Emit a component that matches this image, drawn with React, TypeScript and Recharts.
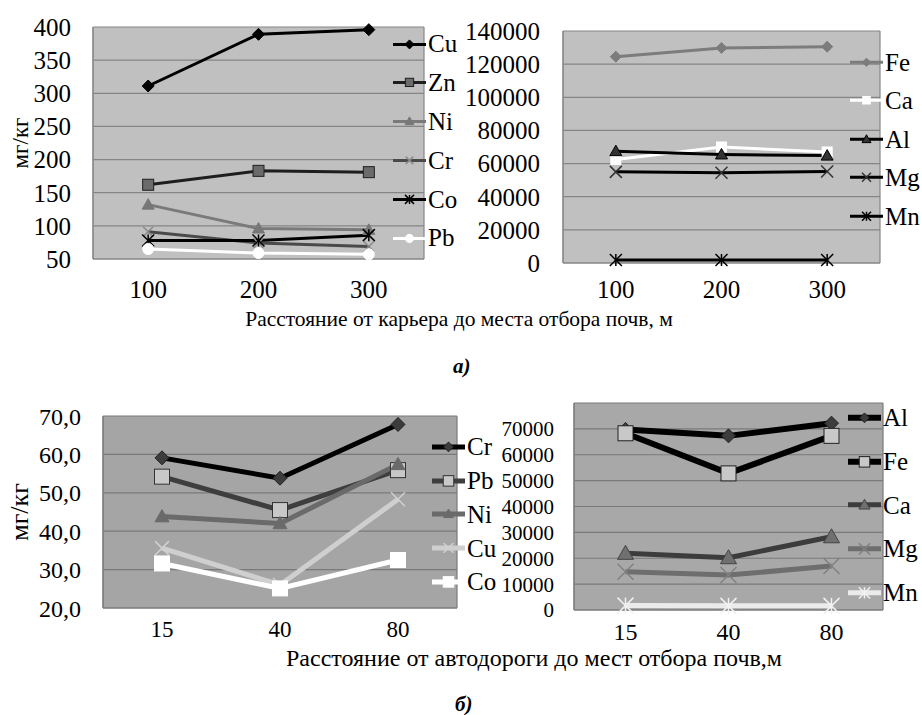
import React from "react";
import { LineChart, Line, XAxis, YAxis, CartesianGrid, Legend, Label } from "recharts";

const FONT = '"Liberation Serif", "Times New Roman", serif';

// а) distance from the quarry, m
const quarryDist = ["100", "200", "300"];
const cuQ = [311, 389, 396];
const znQ = [162, 183, 181];
const niQ = [132, 96, 94];
const crQ = [91, 74, 69];
const coQ = [78, 78, 86];
const pbQ = [65, 59, 57];
const quarryTicksSmall = [50, 100, 150, 200, 250, 300, 350, 400];

const feQ = [124500, 129800, 130500];
const caQ = [62500, 70000, 67000];
const alQ = [67500, 65500, 64800];
const mgQ = [55000, 54500, 55200];
const mnQ = [1800, 1800, 1800];
const quarryTicksBig = [0, 20000, 40000, 60000, 80000, 100000, 120000, 140000];

// б) distance from the road, m
const roadDist = ["15", "40", "80"];
const crR = [59.1, 53.8, 67.8];
const pbR = [54.2, 45.5, 55.9];
const niR = [43.8, 42.0, 57.4];
const cuR = [35.6, 26.0, 48.3];
const coR = [31.6, 25.1, 32.5];
const roadTicksSmall = [20, 30, 40, 50, 60, 70];

const alR = [69800, 67300, 72200];
const feR = [68300, 52800, 67300];
const caR = [21900, 20200, 28300];
const mgR = [14800, 13500, 17000];
const mnR = [1700, 1600, 1600];
const roadTicksBig = [0, 10000, 20000, 30000, 40000, 50000, 60000, 70000, 80000];

const quarryRowsSmall = quarryDist.map((d, i) => ({ dist: d, Cu: cuQ[i], Zn: znQ[i], Ni: niQ[i], Cr: crQ[i], Co: coQ[i], Pb: pbQ[i] }));
const quarryRowsBig = quarryDist.map((d, i) => ({ dist: d, Fe: feQ[i], Ca: caQ[i], Al: alQ[i], Mg: mgQ[i], Mn: mnQ[i] }));
const roadRowsSmall = roadDist.map((d, i) => ({ dist: d, Cr: crR[i], Pb: pbR[i], Ni: niR[i], Cu: cuR[i], Co: coR[i] }));
const roadRowsBig = roadDist.map((d, i) => ({ dist: d, Al: alR[i], Fe: feR[i], Ca: caR[i], Mg: mgR[i], Mn: mnR[i] }));

type Shape = "diamond" | "square" | "triangle" | "x" | "star" | "circle";
type SeriesStyle = { name: string; stroke: string; width: number; shape: Shape; r: number; fill: string; edge: string };

const stylesA1: SeriesStyle[] = [
  { name: "Cu", stroke: "#000", width: 3, shape: "diamond", r: 6, fill: "#000", edge: "#000" },
  { name: "Zn", stroke: "#1e1e1e", width: 3, shape: "square", r: 5.5, fill: "#6b6b6b", edge: "#1e1e1e" },
  { name: "Ni", stroke: "#7a7a7a", width: 3, shape: "triangle", r: 6, fill: "#777", edge: "#777" },
  { name: "Cr", stroke: "#4a4a4a", width: 3, shape: "x", r: 5, fill: "#8a8a8a", edge: "#8a8a8a" },
  { name: "Co", stroke: "#000", width: 3, shape: "star", r: 6, fill: "#000", edge: "#000" },
  { name: "Pb", stroke: "#fff", width: 3, shape: "circle", r: 5.5, fill: "#fff", edge: "#fff" },
];

const stylesA2: SeriesStyle[] = [
  { name: "Fe", stroke: "#7c7c7c", width: 3, shape: "diamond", r: 5.5, fill: "#7c7c7c", edge: "#7c7c7c" },
  { name: "Ca", stroke: "#fff", width: 3, shape: "square", r: 5, fill: "#fff", edge: "#fff" },
  { name: "Al", stroke: "#000", width: 3, shape: "triangle", r: 6, fill: "#333", edge: "#000" },
  { name: "Mg", stroke: "#000", width: 3, shape: "x", r: 6, fill: "#333", edge: "#333" },
  { name: "Mn", stroke: "#000", width: 3, shape: "star", r: 6, fill: "#000", edge: "#000" },
];

const stylesB1: SeriesStyle[] = [
  { name: "Cr", stroke: "#000", width: 5, shape: "diamond", r: 7, fill: "#3c3c3c", edge: "#222" },
  { name: "Pb", stroke: "#3e3e3e", width: 5, shape: "square", r: 7.5, fill: "#c8c8c8", edge: "#333" },
  { name: "Ni", stroke: "#6a6a6a", width: 5, shape: "triangle", r: 7, fill: "#6a6a6a", edge: "#6a6a6a" },
  { name: "Cu", stroke: "#cfcfcf", width: 5, shape: "x", r: 7, fill: "#d0d0d0", edge: "#d0d0d0" },
  { name: "Co", stroke: "#fff", width: 5, shape: "square", r: 7.5, fill: "#fff", edge: "#fff" },
];

const stylesB2: SeriesStyle[] = [
  { name: "Al", stroke: "#000", width: 6, shape: "diamond", r: 7, fill: "#3c3c3c", edge: "#222" },
  { name: "Fe", stroke: "#000", width: 6, shape: "square", r: 7.5, fill: "#c8c8c8", edge: "#222" },
  { name: "Ca", stroke: "#3c3c3c", width: 5, shape: "triangle", r: 8, fill: "#707070", edge: "#444" },
  { name: "Mg", stroke: "#6e6e6e", width: 5, shape: "x", r: 8, fill: "#808080", edge: "#808080" },
  { name: "Mn", stroke: "#ebebeb", width: 5, shape: "star", r: 8, fill: "#f2f2f2", edge: "#f2f2f2" },
];

function Marker({ shape, cx, cy, r, fill, edge }: { shape: Shape; cx: number; cy: number; r: number; fill: string; edge: string }) {
  switch (shape) {
    case "diamond":
      return <polygon points={`${cx},${cy - r} ${cx + r},${cy} ${cx},${cy + r} ${cx - r},${cy}`} fill={fill} stroke={edge} strokeWidth={1} />;
    case "square":
      return <rect x={cx - r} y={cy - r} width={2 * r} height={2 * r} fill={fill} stroke={edge} strokeWidth={1} />;
    case "triangle":
      return <polygon points={`${cx},${cy - r} ${cx + r},${cy + r * 0.75} ${cx - r},${cy + r * 0.75}`} fill={fill} stroke={edge} strokeWidth={1} />;
    case "x":
      return (
        <g stroke={fill} strokeWidth={1.5}>
          <line x1={cx - r} y1={cy - r} x2={cx + r} y2={cy + r} />
          <line x1={cx - r} y1={cy + r} x2={cx + r} y2={cy - r} />
        </g>
      );
    case "star":
      return (
        <g stroke={fill} strokeWidth={1.5}>
          <line x1={cx - r} y1={cy - r} x2={cx + r} y2={cy + r} />
          <line x1={cx - r} y1={cy + r} x2={cx + r} y2={cy - r} />
          <line x1={cx} y1={cy - r} x2={cx} y2={cy + r} />
        </g>
      );
    default:
      return <circle cx={cx} cy={cy} r={r} fill={fill} stroke={edge} strokeWidth={1} />;
  }
}

type PanelProps = {
  left: number; top: number; width: number; height: number;
  margin: { top: number; right: number; bottom: number; left: number };
  data: any[]; series: SeriesStyle[];
  yDomain: [number, number]; yTicks: number[]; yFormat?: (v: number) => string;
  yWidth: number; yTickMargin: number; yFont: number;
  xHeight: number; xTickMargin: number; xFont: number;
  bg: string; gridColor: string;
  legendLeft: number; legendTop: number; legendRow: number; legendFont: number; legendScale: number;
  yLabelFont?: number; yLabelX?: number;
};

function Panel(p: PanelProps) {
  // keep the legend in series order (Excel style), not sorted by name
  const renderLegend = (props: any) => {
    const payload: any[] = props.payload || [];
    return (
      <div style={{ fontFamily: FONT }}>
        {p.series
          .filter((s) => payload.some((e) => e.value === s.name))
          .map((s) => {
            const mid = p.legendRow / 2;
            return (
              <div key={s.name} style={{ height: p.legendRow, display: "flex", alignItems: "center" }}>
                <svg width={33} height={p.legendRow} style={{ display: "block" }}>
                  <line x1={0} x2={33} y1={mid} y2={mid} stroke={s.stroke} strokeWidth={s.width} />
                  <Marker shape={s.shape} cx={16.5} cy={mid} r={s.r * p.legendScale} fill={s.fill} edge={s.edge} />
                </svg>
                <span style={{ fontSize: p.legendFont, marginLeft: 2, lineHeight: 1, color: "#000" }}>{s.name}</span>
              </div>
            );
          })}
      </div>
    );
  };

  return (
    <div style={{ position: "absolute", left: p.left, top: p.top }}>
      <LineChart width={p.width} height={p.height} data={p.data} margin={p.margin} style={{ fontFamily: FONT }}>
        <CartesianGrid
          fill={p.bg}
          stroke={p.gridColor}
          strokeWidth={1.2}
          verticalCoordinatesGenerator={({ offset }: any) => [offset.left, offset.left + offset.width]}
        />
        <XAxis
          dataKey="dist"
          scale="band"
          height={p.xHeight}
          tickLine={false}
          tickSize={0}
          tickMargin={p.xTickMargin}
          axisLine={{ stroke: p.gridColor }}
          tick={{ fill: "#000", fontSize: p.xFont, fontFamily: FONT }}
        />
        <YAxis
          type="number"
          domain={p.yDomain}
          ticks={p.yTicks}
          interval={0}
          width={p.yWidth}
          tickLine={false}
          tickSize={0}
          tickMargin={p.yTickMargin}
          axisLine={{ stroke: p.gridColor }}
          tickFormatter={p.yFormat}
          tick={{ fill: "#000", fontSize: p.yFont, fontFamily: FONT }}
        >
          {p.yLabelFont ? (
            <Label
              content={({ viewBox }: any) => {
                const cx = p.yLabelX || 18;
                const cy = viewBox.y + viewBox.height / 2;
                return (
                  <text x={cx} y={cy} transform={`rotate(-90 ${cx} ${cy})`} textAnchor="middle" dominantBaseline="central" fontSize={p.yLabelFont} fontFamily={FONT} fill="#000">
                    мг/кг
                  </text>
                );
              }}
            />
          ) : null}
        </YAxis>
        <Legend
          layout="vertical"
          align="center"
          verticalAlign="middle"
          content={renderLegend}
          wrapperStyle={{ left: p.legendLeft, top: p.legendTop, width: 90 }}
        />
        {p.series.map((s) => (
          <Line
            key={s.name}
            dataKey={s.name}
            name={s.name}
            stroke={s.stroke}
            strokeWidth={s.width}
            isAnimationActive={false}
            dot={(d: any) => <Marker key={`${s.name}-${d.index}`} shape={s.shape} cx={d.cx} cy={d.cy} r={s.r} fill={s.fill} edge={s.edge} />}
            activeDot={false}
          />
        ))}
      </LineChart>
    </div>
  );
}

const comma = (v: number) => v.toFixed(1).replace(".", ",");
const hideTop = (v: number) => (v === 80000 ? "" : String(v));

export default function App() {
  return (
    <div style={{ position: "absolute", left: 0, top: 0, width: 922, height: 715, background: "#fff", fontFamily: FONT, color: "#000", overflow: "hidden" }}>
      <Panel
        left={0} top={0} width={480} height={320}
        margin={{ top: 27, right: 56, bottom: 0, left: 0 }}
        data={quarryRowsSmall} series={stylesA1}
        yDomain={[50, 400]} yTicks={quarryTicksSmall}
        yWidth={93} yTickMargin={22} yFont={25}
        xHeight={61} xTickMargin={21} xFont={25}
        bg="#c0c0c0" gridColor="#858585"
        legendLeft={393} legendTop={24.6} legendRow={38.8} legendFont={25} legendScale={0.75}
        yLabelFont={23} yLabelX={20}
      />
      <Panel
        left={460} top={0} width={462} height={320}
        margin={{ top: 31, right: 42, bottom: 0, left: 0 }}
        data={quarryRowsBig} series={stylesA2}
        yDomain={[0, 140000]} yTicks={quarryTicksBig}
        yWidth={103} yTickMargin={23} yFont={25}
        xHeight={57} xTickMargin={17} xFont={25}
        bg="#c0c0c0" gridColor="#858585"
        legendLeft={390} legendTop={42.8} legendRow={38.5} legendFont={25} legendScale={0.75}
      />
      <div style={{ position: "absolute", left: -2, width: 922, top: 309, textAlign: "center", fontSize: 21.5, lineHeight: "20px" }}>
        Расстояние от карьера до места отбора почв, м
      </div>
      <div style={{ position: "absolute", left: 453, top: 355, fontSize: 21, fontStyle: "italic", fontWeight: "bold", lineHeight: "22px" }}>
        а)
      </div>

      <Panel
        left={0} top={380} width={500} height={300}
        margin={{ top: 36, right: 43, bottom: 0, left: 0 }}
        data={roadRowsSmall} series={stylesB1}
        yDomain={[20, 70]} yTicks={roadTicksSmall} yFormat={comma}
        yWidth={103} yTickMargin={22} yFont={24}
        xHeight={72} xTickMargin={13} xFont={23}
        bg="#a5a5a5" gridColor="#7a7a7a"
        legendLeft={432} legendTop={49.8} legendRow={33.8} legendFont={25} legendScale={0.7}
        yLabelFont={26} yLabelX={19}
      />
      <Panel
        left={460} top={380} width={462} height={300}
        margin={{ top: 23, right: 39, bottom: 0, left: 0 }}
        data={roadRowsBig} series={stylesB2}
        yDomain={[0, 80000]} yTicks={roadTicksBig} yFormat={hideTop}
        yWidth={114} yTickMargin={20} yFont={21}
        xHeight={70} xTickMargin={13} xFont={24}
        bg="#a8a8a8" gridColor="#7a7a7a"
        legendLeft={388} legendTop={16} legendRow={43.7} legendFont={25} legendScale={0.7}
      />
      <div style={{ position: "absolute", left: 73, width: 922, top: 648, textAlign: "center", fontSize: 24, lineHeight: "20px" }}>
        Расстояние от автодороги до мест отбора почв,м
      </div>
      <div style={{ position: "absolute", left: 455, top: 694, fontSize: 21, fontStyle: "italic", fontWeight: "bold", lineHeight: "20px" }}>
        б)
      </div>
    </div>
  );
}
